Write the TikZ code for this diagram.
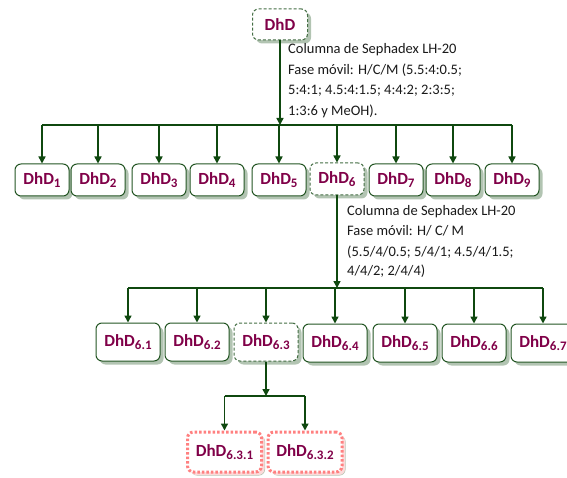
\documentclass[tikz,border=0pt]{standalone}
\usepackage{fontspec}
\setmainfont{Carlito}
\usetikzlibrary{arrows.meta,shadows}
\definecolor{lblc}{RGB}{128,0,72}
\definecolor{bordc}{RGB}{35,85,35}
\definecolor{arrc}{RGB}{15,72,15}
\definecolor{shc}{RGB}{178,196,178}
\definecolor{pinkc}{RGB}{255,128,128}
\definecolor{pinksh}{RGB}{252,218,218}
\newcommand\sbs[1]{\raisebox{-3.5pt}{\fontsize{13}{13}\selectfont #1}}
\tikzset{
  box/.style={draw=bordc, line width=1pt, rounded corners=6pt, fill=white,
    inner sep=0pt, text=lblc, font=\fontsize{17}{17}\selectfont\bfseries,
    drop shadow={shadow xshift=3.5pt, shadow yshift=-3.5pt, fill=shc, opacity=1}},
  r1/.style={box, minimum width=54pt, minimum height=32pt},
  r2/.style={box, minimum width=64pt, minimum height=38pt},
  dbox/.style={dash pattern=on 3pt off 2pt, draw=bordc!85},
  pbox/.style={box, minimum width=74pt, minimum height=40pt, draw=pinkc,
    line width=3pt, dash pattern=on 2.5pt off 2pt,
    drop shadow={shadow xshift=3pt, shadow yshift=-3pt, fill=pinksh, opacity=1}},
  anno/.style={anchor=base west, inner sep=0pt, font=\fontsize{14.5}{17}\selectfont, text=black!90},
  arr/.style={draw=arrc, line width=1.5pt, -{Triangle[length=7pt,width=7pt]}},
  busl/.style={draw=arrc, line width=1.5pt},
}
\begin{document}
\begin{tikzpicture}[x=1pt,y=-1pt]
\useasboundingbox (0,0) rectangle (567,478);

% top
\node[box, dbox, minimum width=55pt, minimum height=31pt] (top) at (280,24.5) {DhD};
\node[anno] (ta) at (288,54) {Columna de Sephadex LH-20};
\node[anno] (tb) at (288,74.5) {Fase móvil: H/C/M (5.5:4:0.5;};
\node[anno] (tc) at (288,95) {5:4:1; 4.5:4:1.5; 4:4:2; 2:3:5;};
\node[anno] (td) at (288,115.5) {1:3:6 y MeOH).};

% row 1
\coordinate (b1) at (280,125);
\node[r1] (d1) at (42,180) {DhD\sbs{1}};
\node[r1] (d2) at (98,180) {DhD\sbs{2}};
\node[r1] (d3) at (159,180) {DhD\sbs{3}};
\node[r1] (d4) at (217,180) {DhD\sbs{4}};
\node[r1] (d5) at (279,180) {DhD\sbs{5}};
\node[r1, dbox] (d6) at (337,179) {DhD\sbs{6}};
\node[r1] (d7) at (396,180) {DhD\sbs{7}};
\node[r1] (d8) at (453,180) {DhD\sbs{8}};
\node[r1] (d9) at (512,180) {DhD\sbs{9}};

\draw[busl] (b1 -| d1) -- (b1 -| d9);
\draw[arr] (top.south) -- (top.south |- b1);
\foreach \n in {d1,d2,d3,d4,d5,d6,d7,d8,d9}
  \draw[arr] (b1 -| \n) -- (\n.north);

\node[anno] (sa) at (347,216) {Columna de Sephadex LH-20};
\node[anno] (sb) at (347,236) {Fase móvil: H/ C/ M};
\node[anno] (sc) at (347,256) {(5.5/4/0.5; 5/4/1; 4.5/4/1.5;};
\node[anno] (sd) at (347,276) {4/4/2; 2/4/4)};

% row 2
\coordinate (b2) at (335,288);
\node[r2] (e1) at (128,342) {DhD\sbs{6.1}};
\node[r2] (e2) at (197,342) {DhD\sbs{6.2}};
\node[r2, dbox] (e3) at (266,342) {DhD\sbs{6.3}};
\node[r2] (e4) at (335,343) {DhD\sbs{6.4}};
\node[r2] (e5) at (405,343) {DhD\sbs{6.5}};
\node[r2] (e6) at (474,343) {DhD\sbs{6.6}};
\node[r2] (e7) at (543,343) {DhD\sbs{6.7}};

\draw[busl] (b2 -| e1) -- (b2 -| e7);
\draw[arr] (d6.south) -- (d6.south |- b2);
\foreach \n in {e1,e2,e3,e4,e5,e6,e7}
  \draw[arr] (b2 -| \n) -- (\n.north);

% row 3
\coordinate (b3) at (266,396);
\node[pbox] (f1) at (224.5,452) {DhD\sbs{6.3.1}};
\node[pbox] (f2) at (305,452) {DhD\sbs{6.3.2}};
\draw[busl] (b3 -| f1) -- (b3 -| f2);
\draw[arr] (e3.south) -- (e3.south |- b3);
\foreach \n in {f1,f2}
  \draw[arr] (b3 -| \n) -- (\n.north);
\end{tikzpicture}
\end{document}
